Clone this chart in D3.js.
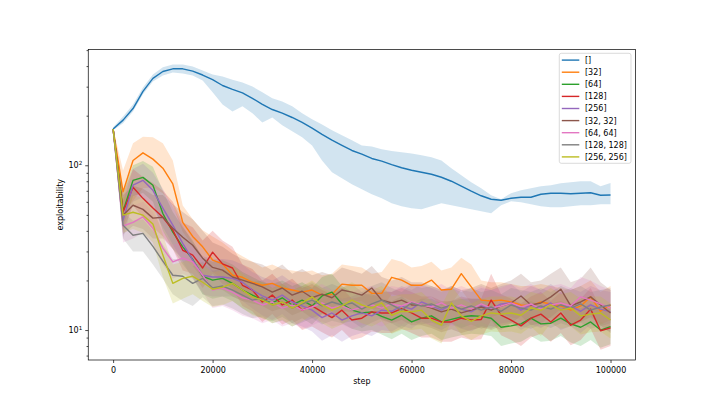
<!DOCTYPE html>
<html>
<head>
<meta charset="utf-8">
<script src="https://cdn.jsdelivr.net/npm/d3@7"></script>
<style>
  body { margin: 0; background: #fff; }
  svg { display: block; font-family: 'DejaVu Sans', sans-serif; }
</style>
</head>
<body>
<svg id="chart" width="706" height="412"></svg>
<script>
// evaluation steps (every 2000)
const steps = d3.range(0, 100001, 2000);

const labels = ['[]', '[32]', '[64]', '[128]', '[256]', '[32, 32]', '[64, 64]', '[128, 128]', '[256, 256]'];
const colors = ['#1f77b4', '#ff7f0e', '#2ca02c', '#d62728', '#9467bd', '#8c564b', '#e377c2', '#7f7f7f', '#bcbd22'];

const xTicks = [0, 20000, 40000, 60000, 80000, 100000];
const yMajor = [10, 100];
const yMinor = [7, 8, 9, 20, 30, 40, 50, 60, 70, 80, 90, 200, 300, 400, 500];

// [] (no hidden layers)
const mean0 = [166,188,221,281,337,371,385,385,373,353,331,305,289,275,255,234,218,207,195,182,168,154,142,132,123,117,110,106,101,96.6,93.3,90.7,88.2,84.6,80,74.6,69.6,65.3,62.2,61.3,63.1,64,64,66.7,67.7,67.7,67.2,67.7,68.1,65.8,66];
const hi0 = [170,198,234,297,356,393,409,409,398,376,356,346,331,318,301,277,255,244,228,207,190,177,163,152,142,132,130,125,122,120,118,115,112,107,95.9,87,78.9,72.5,65.8,62.2,67.7,70.5,72.5,74.6,75.7,77.8,78.9,80,80,74.6,78.1];
const lo0 = [163,180,212,270,323,351,366,361,351,327,277,234,212,228,207,182,195,175,161,148,132,107,90.7,83.4,76.7,71.5,66.7,63.1,58.8,56.4,54.9,54.1,56.4,58.8,57.2,55.6,54.1,52.6,51.2,57.2,60.5,59.7,58,56.4,55.6,55.6,56.4,57.2,57.2,58,58];

// [32]
const mean1 = [166,69,107,119,109,96,77,45,37,32,26.6,25.2,21.5,20.9,19.5,18.7,19.2,18,17.5,17,17.5,16.3,16.5,19,18.7,18.7,16.7,16.7,20.9,20.1,18.7,18.7,20.1,17.5,17.7,22,18.3,15.2,15,15.2,14.8,14.2,14,14.8,14.4,14,13.2,14,15.9,13,14.2];
const hi1 = [168,93,136,149,148,136,107,57,47,40.4,37,34,30.5,28,26,24,25,23.5,23,22.5,23,21.5,22,25,24.5,24,22,22.5,27,26,24,24.5,26,23,24,27.5,25,20,19.5,19.5,19,18.5,18.5,19,18.5,18,17.5,18.5,20,17,18.5];
const lo1 = [164,51,61,72.5,73.6,67.7,57,39.3,32.7,27.3,22.5,20.6,17.5,16.5,15.5,15,15.5,14.5,14,13.5,14,13,13.5,15,15,15,13.5,13.5,16.5,16,15,15,16,14,14.5,17.5,14.5,12.5,12,12.5,12,11.5,11.5,12,11.8,11.5,11,11.5,12.5,10.8,11.5];

// [64]
const mean2 = [166,52.6,81,84.5,75.7,51,39.3,32,26.9,21.2,20.1,20.6,19.2,17.5,16.3,15.2,14.6,15.7,14.2,15.2,14,16.1,17,14.4,13.2,12.7,12.9,12.1,11.5,12.3,11.2,11.8,12.2,11.2,11.6,12,12.2,12.1,11.8,10.4,10.6,10.9,11.8,10.9,11,11.8,10.9,10.4,11.2,10,10.5];
const hi2 = [168,70,100,106,98,70,52,42,35,27.5,26,26.5,25,22.5,21,19.5,19,20,18.5,19.5,18,21,22,18.5,17,16.5,16.5,15.5,15,16,14.5,15.5,15.5,14.5,15,15.5,15.5,15.5,15,13.5,14,14,15,14,14.5,15,14,13.5,14.5,13,13.5];
const lo2 = [164,42,65,68,60,40,31,25,21,16.5,15.5,16,15,13.5,12.5,11.8,11.3,12,11,11.8,10.8,12.5,13,11,10.2,9.8,10,9.4,8.8,9.5,8.7,9.2,9.5,8.7,9,9.3,9.5,9.4,9.2,8,8.3,8.5,9.2,8.5,8.6,9.2,8.4,8,8.7,7.8,8.2];

// [128]
const mean3 = [166,52,73.6,63,55,48.4,40.4,30.5,28.5,23.8,29.7,25.2,23.8,18.7,17.5,14.8,16.3,14.2,15.2,13.2,14,12.9,11.9,13.2,11.5,11.8,12.9,12.7,12.7,13.5,12.7,11.8,11.8,11.2,11.2,11.8,11.5,11.6,15.2,12.3,11.5,10.6,11.8,12.5,11.2,12.7,10.7,11.5,13.4,9.9,10.3];
const hi3 = [168,68,95,85,78,70,60,45,42,35,40,35,32,25,23.5,20,22,19,20.5,18,19,17.5,16.5,18,15.5,16,17.5,17,17,18,17,16,16,15,15,16,15.5,15.5,22,16.5,15.5,14.5,16,17,15,17,14.5,15.5,18,13.5,14];
const lo3 = [164,40,57,48,42,37,31,23,22,18,22,19,18,14,13,11.2,12.5,10.8,11.5,10,10.5,9.7,9,10,8.7,9,9.8,9.6,9.6,10.2,9.6,9,9,8.5,8.5,9,8.7,8.8,11.5,9.3,8.7,8,9,9.5,8.5,9.6,8.1,8.7,10.2,7.6,8];

// [256]
const mean4 = [166,46.4,75.7,81,70.5,55,43.3,33.6,26.6,21.5,21,21,20.6,19.5,17.5,16.1,15.2,16.3,14.8,14,13.2,11.9,12.7,11.5,12.2,12.7,12.2,13.2,13,14,13.4,14.8,14,13.2,14.2,13.4,12.9,14,13.4,14.4,14.6,13.2,14.2,13.6,14.6,13.2,14,13,14.2,13.4,12.9];
const hi4 = [168,60,95,102,90,72,56,43,34,28,27,27,26.5,25,22.5,21,20,21.5,19.5,18.5,17.5,16,17,15.5,16,17,16,17.5,17,18.5,17.5,19,18,17,18.5,17.5,17,18,17.5,18.5,19,17,18.5,17.5,19,17,18,17,18.5,17.5,17];
const lo4 = [164,36,60,64,55,42,33,26,20.5,16.5,16,16,16,15,13.5,12.3,11.5,12.5,11,10.5,9.8,8.6,9.3,8.5,9.2,9.6,9.2,10,9.8,10.6,10.2,11.3,10.6,10,10.8,10.2,9.8,10.6,10.2,11,11.2,10,10.8,10.3,11.2,10,10.6,9.6,10.8,10.2,9.8];

// [32, 32]
const mean5 = [166,49.8,57.2,54,47.8,48.4,41.5,36.6,32.7,27.3,24,23.1,21,20.1,19.2,18.3,17,18,16.3,17.2,15.7,16.5,15.7,17.5,17,16.3,18,15.2,14.6,15.2,14.2,14.2,13.6,12.9,13.4,12.7,13.2,13.8,13.2,14,14.6,16.1,14.2,14.6,15.9,17.7,14,14.8,15.9,14.2,12.7];
const hi5 = [168,66,75,72,66,66,58,52,47,40,34,32,29,27,26,25,23,25,22,23.5,21.5,22.5,21.5,24,23,22,24.5,21,20,21,19.5,19.5,18.5,17.5,18.5,17.5,18,19,18,19,20,22,19.5,20,22,24,19.5,20.5,24,19.5,17.5];
const lo5 = [164,38,43,41,36,36,31,27,24.5,20.5,18,17.5,16,15,14.5,14,13,13.6,12.3,13,11.8,12.5,11.8,13.2,12.8,12.3,13.6,11.5,11,11.5,10.7,10.7,10.3,9.7,10.1,9.6,10,10.4,10,10.6,11,12.2,10.7,11,12,13.4,10.6,11.2,12,10.7,9.6];

// [64, 64]
const mean6 = [166,42.8,45,48.6,41.5,31.4,25.9,27.3,25.9,21.5,17.5,18,17,15.7,15.2,14.2,14.8,13.6,14.2,13.2,13.8,14.6,13.6,14,13.2,13.8,14.2,13.6,14.4,14,14.8,14.2,13.8,14.6,13.6,14.2,13.4,14.4,13.6,14,14.6,13.8,14.4,13.4,14.2,14.6,14,15.9,15.2,14.4,13.6];
const hi6 = [168,55,57,60,52,40,33,34,32,27,22.5,23,21.5,20,19.5,18.5,19,17.5,18.5,17,18,19,17.5,18,17,18,18.5,17.5,18.5,18,19,18.5,18,19,17.5,18.5,17.5,18.5,17.5,18,19,18,19,17.5,18.5,19,18,21,20,18.5,17.5];
const lo6 = [164,34,36,39,33,25,20.5,22,20.5,17,13.6,14,13.2,12.2,11.8,11,11.5,10.5,11,10.2,10.7,11.3,10.5,10.8,10.2,10.7,11,10.5,11.2,10.8,11.5,11,10.7,11.3,10.5,11,10.4,11.2,10.5,10.8,11.3,10.7,11.2,10.4,11,11.3,10.8,12.3,11.8,11.2,10.5];

// [128, 128]
const mean7 = [166,43.3,37.6,38.6,32.2,26.2,21.5,21.2,19.2,20.6,18,18.5,17.5,16.3,15.2,15.7,14.2,14.8,13.6,14.4,15.2,14,14.8,14.2,14.6,13.4,14.4,15.2,14.2,13.2,14.6,14,14.4,13.6,14.2,13.4,14,13.2,13.8,13,14.2,13.6,13.2,14,13.4,14.2,13.6,14.4,13.2,13.8,14.2];
const hi7 = [168,52,46,47,40,33,27,27,24.5,26,23,23.5,22,20.5,19.5,20,18,19,17.5,18.5,19.5,18,19,18,19,17,18.5,19.5,18,17,19,18,18.5,17.5,18,17,18,17,17.5,16.5,18,17.5,17,18,17,18.5,17.5,18.5,17,17.5,18];
const lo7 = [164,36,30,30,25,20.5,16.5,15,14,15.8,14,14.3,13.5,12.5,11.8,12.1,11,11.4,10.5,11.1,11.8,10.8,11.4,11,11.3,10.3,11.1,11.8,11,10.2,11.3,10.8,11.1,10.5,11,10.3,10.8,10.2,10.6,10,11,10.5,10.2,10.8,10.3,11,10.5,11.1,10.2,10.6,11];

// [256, 256]
const mean8 = [166,49.8,51.9,49.8,44,28.5,19.2,20.6,21.2,19.5,17.7,18.2,19.2,17.5,15.9,15.2,14.2,14.8,13.6,14.6,15.9,14.2,13.2,14,15.2,14.2,13.6,14.6,12.3,13,12.9,13.2,11.5,10.7,14.6,12.2,11.3,12.2,12.7,12.5,12.7,12.3,13.6,13.2,14.2,13.2,13.6,12.2,12.5,12.7,11.5];
const hi8 = [168,64,66,63,56,38,25,26,27,25,22.5,23,24.5,22,20,19.5,18,19,17.5,18.5,20,18,17,18,19.5,18,17.5,18.5,16,16.5,16.5,17,15,14,18.5,15.5,14.5,15.5,16,16,16,15.5,17,16.5,18,16.5,17,15.5,16,16,14.5];
const lo8 = [164,39,41,39,34,21,14.5,15.5,16.5,15,13.8,14.2,15,13.6,12.3,11.8,11,11.5,10.5,11.3,12.3,11,10.2,10.8,11.8,11,10.5,11.3,9.5,10,10,10.2,8.9,8.3,11.3,9.4,8.7,9.4,9.8,9.7,9.8,9.5,10.5,9.2,11,10.2,10.5,9.4,9.7,9.8,8.9];

const means = [mean0, mean1, mean2, mean3, mean4, mean5, mean6, mean7, mean8];
const his = [hi0, hi1, hi2, hi3, hi4, hi5, hi6, hi7, hi8];
const los = [lo0, lo1, lo2, lo3, lo4, lo5, lo6, lo7, lo8];

const svg = d3.select('#chart');
const mLeft = 88.25, mRight = 635.4, mTop = 49.4, mBottom = 360;

const x = d3.scaleLinear().domain([-5000, 105000]).range([mLeft, mRight]);
const y = d3.scaleLog().domain([6.58, 505]).range([mBottom, mTop]);

const series = means.map((m, s) =>
  steps.map((st, i) => ({ st, m: m[i], hi: his[s][i], lo: los[s][i] })));

const bandLayer = svg.append('g');
const lineLayer = svg.append('g');

series.forEach((rows, s) => {
  bandLayer.append('path')
    .datum(rows)
    .attr('fill', colors[s])
    .attr('fill-opacity', 0.2)
    .attr('stroke', 'none')
    .attr('d', d3.area().x(d => x(d.st)).y0(d => y(d.lo)).y1(d => y(d.hi)));

  lineLayer.append('path')
    .datum(rows)
    .attr('fill', 'none')
    .attr('stroke', colors[s])
    .attr('stroke-width', 1.4)
    .attr('stroke-linejoin', 'round')
    .attr('d', d3.line().x(d => x(d.st)).y(d => y(d.m)));
});

// axes
const xAxis = svg.append('g')
  .attr('transform', `translate(0,${mBottom})`)
  .call(d3.axisBottom(x).tickValues(xTicks).tickFormat(d3.format('d')).tickSize(3).tickPadding(4));

const yAxis = svg.append('g')
  .attr('transform', `translate(${mLeft},0)`)
  .call(d3.axisLeft(y).tickValues(yMajor).tickFormat('').tickSize(3).tickPadding(3));

const yMinorAxis = svg.append('g')
  .attr('transform', `translate(${mLeft},0)`)
  .call(d3.axisLeft(y).tickValues(yMinor).tickFormat('').tickSize(1.7));

[xAxis, yAxis, yMinorAxis].forEach(g => {
  g.select('.domain').remove();
  g.selectAll('line').attr('stroke', '#000').attr('stroke-width', 0.7);
  g.selectAll('text').attr('fill', '#000').style('font-size', '8px').style('font-family', "'DejaVu Sans', sans-serif");
});

// 10^n labels with superscripts
yMajor.forEach(v => {
  const t = svg.append('text')
    .attr('x', mLeft - 6)
    .attr('y', y(v) + 3)
    .attr('text-anchor', 'end')
    .style('font-size', '8px');
  t.append('tspan').text('10');
  t.append('tspan').attr('dy', -3.5).style('font-size', '5.6px').text(Math.round(Math.log10(v)));
});

// spines
svg.append('rect')
  .attr('x', mLeft).attr('y', mTop)
  .attr('width', mRight - mLeft).attr('height', mBottom - mTop)
  .attr('fill', 'none').attr('stroke', '#000').attr('stroke-width', 0.7);

// axis labels
svg.append('text')
  .attr('x', (mLeft + mRight) / 2).attr('y', 384)
  .attr('text-anchor', 'middle').style('font-size', '8px')
  .text('step');

svg.append('text')
  .attr('transform', `translate(63,${(mTop + mBottom) / 2}) rotate(-90)`)
  .attr('text-anchor', 'middle').style('font-size', '8px')
  .text('exploitability');

// legend
const legend = svg.append('g').attr('transform', 'translate(559.3,53.3)');
legend.append('rect')
  .attr('width', 71.7).attr('height', 110)
  .attr('rx', 2).attr('ry', 2)
  .attr('fill', '#fff').attr('fill-opacity', 0.8)
  .attr('stroke', '#cccccc').attr('stroke-width', 0.7);

labels.forEach((lab, i) => {
  const yy = 6.8 + i * 12.1;
  legend.append('line')
    .attr('x1', 2.5).attr('x2', 20)
    .attr('y1', yy).attr('y2', yy)
    .attr('stroke', colors[i]).attr('stroke-width', 1.4);
  legend.append('text')
    .attr('x', 25.7).attr('y', yy + 3)
    .style('font-size', '8px')
    .text(lab);
});
</script>
</body>
</html>
